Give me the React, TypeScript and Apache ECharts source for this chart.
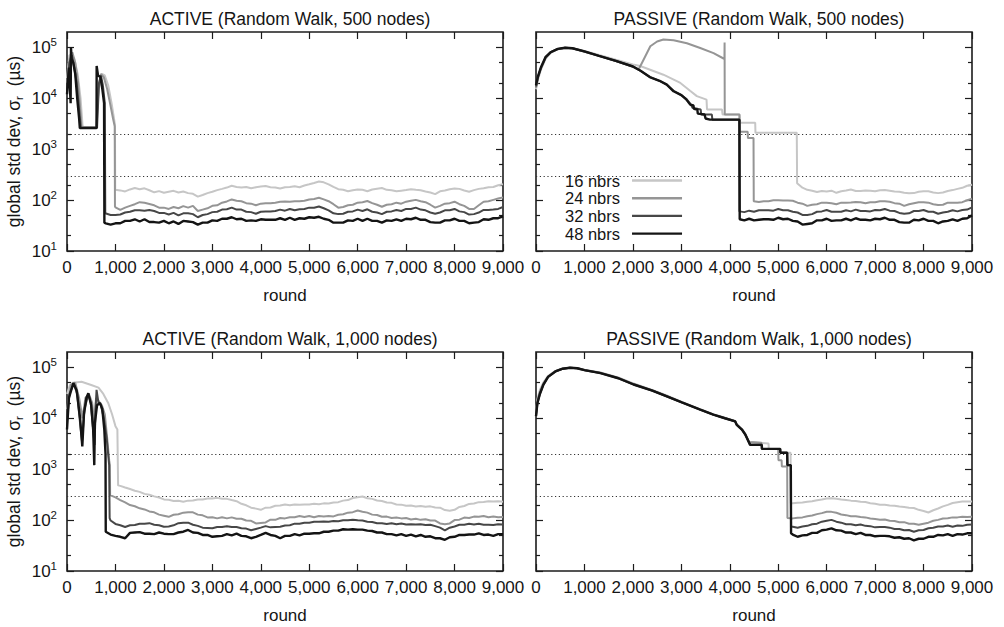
import React, { useEffect, useRef } from 'react';
import * as echarts from 'echarts';

const SERIES_NAMES = ['16 nbrs', '24 nbrs', '32 nbrs', '48 nbrs'];
const SERIES_COLORS = ['#c6c6c6', '#959595', '#474747', '#141414'];
const SERIES_WIDTHS = [2, 2, 2, 2.4];
const PANEL_TITLES = [
  'ACTIVE (Random Walk, 500 nodes)',
  'PASSIVE (Random Walk, 500 nodes)',
  'ACTIVE (Random Walk, 1,000 nodes)',
  'PASSIVE (Random Walk, 1,000 nodes)',
];
const X_MIN = 0;
const X_MAX = 9000;
const X_INTERVAL = 1000;
const Y_MIN = 10;
const Y_MAX = 200000;
const Y_MAJOR = [10, 100, 1000, 10000, 100000];
const Y_MINOR = [20, 50, 200, 500, 2000, 5000, 20000, 50000];
const THRESHOLDS = [2000, 300];
const TAIL_STEP = 100;

// ---------- ACTIVE, 500 nodes ----------
const tl16Head = [[0, 2.5e4], [50, 7e4], [100, 7e4], [150, 6e4], [220, 3e4], [280, 1e4], [320, 3e3], [330, 2.7e3], [600, 2.7e3], [650, 1.5e4], [720, 3e4], [780, 2.8e4], [850, 1.8e4], [920, 8e3], [970, 4e3], [990, 3e3], [995, 160]];
const tl16TailStart = 1100;
const tl16Tail = [155, 148, 162, 172, 163, 170, 156, 142, 150, 139, 146, 152, 141, 147, 137, 133, 117, 126, 137, 146, 157, 166, 176, 191, 181, 176, 181, 171, 179, 184, 189, 179, 177, 169, 179, 181, 186, 179, 193, 204, 216, 231, 223, 204, 181, 164, 159, 149, 156, 161, 159, 149, 161, 167, 173, 159, 156, 149, 153, 157, 163, 159, 156, 147, 141, 131, 149, 154, 163, 169, 166, 154, 146, 157, 166, 171, 179, 181, 196, 204];
const tl24Head = [[0, 2e4], [60, 6e4], [110, 8e4], [170, 5e4], [230, 2e4], [280, 5e3], [300, 2.7e3], [610, 2.7e3], [650, 1.5e4], [700, 3e4], [760, 2.6e4], [830, 1.5e4], [900, 7e3], [950, 4e3], [985, 2.8e3], [990, 75]];
const tl24TailStart = 1000;
const tl24Tail = [72, 64, 71, 77, 83, 91, 89, 84, 79, 71, 71, 67, 73, 69, 76, 71, 77, 61, 65, 69, 77, 79, 89, 94, 103, 97, 95, 87, 85, 79, 85, 87, 87, 89, 93, 94, 93, 95, 95, 97, 103, 105, 111, 103, 95, 83, 71, 73, 79, 81, 89, 91, 96, 87, 81, 74, 81, 83, 89, 85, 93, 97, 101, 95, 91, 81, 71, 77, 85, 87, 93, 83, 77, 67, 67, 79, 93, 95, 101, 107, 113];
const tl32Head = [[0, 1.5e4], [50, 5e4], [100, 7e4], [150, 4e4], [200, 2e4], [250, 6e3], [285, 2.6e3], [620, 2.6e3], [660, 2e4], [700, 2.8e4], [740, 1.8e4], [780, 8e3], [790, 55]];
const tl32TailStart = 800;
const tl32Tail = [56, 51, 51, 52, 57, 59, 63, 63, 62, 64, 61, 56, 56, 52, 56, 50, 55, 55, 53, 46, 51, 53, 58, 59, 65, 66, 71, 65, 65, 59, 58, 54, 59, 60, 60, 61, 65, 62, 67, 63, 66, 67, 71, 71, 75, 69, 63, 55, 53, 54, 59, 60, 65, 61, 66, 59, 57, 53, 59, 60, 64, 61, 67, 67, 71, 65, 63, 57, 54, 57, 63, 63, 67, 60, 58, 52, 53, 57, 64, 64, 65, 67, 73];
const tl48Head = [[0, 1.2e4], [40, 4e4], [75, 8e3], [82, 1e5], [95, 6e4], [130, 5e4], [170, 3e4], [210, 1e4], [250, 4e3], [265, 2.6e3], [610, 2.6e3], [612, 4.3e4], [640, 2.8e4], [690, 2.6e4], [730, 1.5e4], [765, 8e3], [772, 36]];
const tl48TailStart = 800;
const tl48Tail = [35, 33, 35, 35, 39, 39, 42, 38, 42, 37, 37, 36, 39, 35, 38, 34, 39, 38, 37, 33, 36, 36, 40, 39, 43, 43, 46, 42, 43, 39, 40, 39, 42, 41, 41, 41, 44, 41, 45, 41, 44, 43, 46, 45, 47, 43, 41, 36, 36, 36, 40, 39, 43, 39, 43, 39, 39, 36, 40, 39, 42, 39, 43, 42, 45, 41, 41, 37, 36, 36, 40, 40, 43, 39, 39, 35, 36, 37, 42, 41, 44, 44, 48];

// ---------- PASSIVE, 500 nodes ----------
const tr16Head = [[0, 1.5e4], [40, 2.3e4], [100, 3.6e4], [200, 6e4], [300, 7.8e4], [450, 9.2e4], [600, 9.8e4], [750, 9.7e4], [1000, 8.5e4], [1300, 7.1e4], [1650, 5.7e4], [2000, 4.6e4], [2150, 4.3e4], [2630, 2.9e4], [2980, 2e4], [3180, 1.4e4], [3320, 1.1e4], [3520, 9.4e3], [3530, 6e3], [3840, 6e3], [3850, 4.8e3], [4200, 4.8e3], [4210, 3.3e3], [4525, 3.3e3], [4530, 2.1e3], [5383, 2.1e3], [5390, 215]];
const tr16TailStart = 5500;
const tr16Tail = [175, 159, 153, 144, 151, 147, 153, 139, 149, 154, 161, 151, 151, 154, 153, 149, 156, 157, 153, 147, 146, 139, 136, 137, 146, 149, 149, 141, 137, 141, 151, 157, 166, 174, 191, 200];
const tr24Head = [[0, 1.6e4], [40, 2.5e4], [100, 3.8e4], [200, 6.2e4], [300, 7.9e4], [450, 9.2e4], [600, 9.7e4], [750, 9.6e4], [1000, 8.2e4], [1300, 6.8e4], [1650, 5.4e4], [2000, 4.2e4], [2120, 3.7e4], [2220, 5.7e4], [2360, 1.05e5], [2500, 1.3e5], [2630, 1.42e5], [2840, 1.38e5], [3115, 1.2e5], [3390, 9.7e4], [3665, 7.7e4], [3890, 5.9e4], [3893, 1.25e5], [3896, 4.8e3], [4200, 4.8e3], [4205, 2.2e3], [4370, 2.2e3], [4375, 1.65e3], [4490, 1.65e3], [4495, 95]];
const tr24TailStart = 4600;
const tr24Tail = [92, 95, 95, 99, 99, 98, 98, 97, 89, 85, 77, 81, 83, 89, 89, 87, 83, 89, 89, 90, 92, 91, 87, 91, 91, 95, 95, 93, 87, 85, 77, 83, 87, 91, 91, 89, 83, 80, 81, 89, 89, 89, 91, 99, 106];
const tr32Head = [[0, 1.7e4], [40, 2.6e4], [100, 3.9e4], [200, 6.4e4], [300, 8e4], [450, 9.3e4], [600, 9.8e4], [750, 9.6e4], [1000, 8.3e4], [1300, 6.8e4], [1650, 5.4e4], [2000, 4.2e4], [2150, 3.5e4], [2350, 2.6e4], [2550, 2.2e4], [2700, 1.85e4], [2840, 1.4e4], [3000, 1.15e4], [3100, 9.8e3], [3200, 7.5e3], [3230, 6.5e3], [3400, 6e3], [3410, 4.8e3], [3630, 4.8e3], [3640, 3.8e3], [4195, 3.8e3], [4200, 60]];
const tr32TailStart = 4300;
const tr32Tail = [58, 62, 59, 63, 63, 63, 62, 67, 63, 63, 59, 57, 51, 51, 53, 59, 60, 64, 59, 59, 59, 63, 60, 65, 61, 61, 60, 64, 63, 67, 62, 61, 56, 54, 55, 61, 61, 64, 59, 59, 54, 57, 59, 63, 60, 64, 65, 72];
const tr48Head = [[0, 1.8e4], [40, 2.7e4], [100, 4e4], [200, 6.5e4], [300, 8e4], [450, 9.3e4], [600, 9.8e4], [750, 9.6e4], [1000, 8.3e4], [1300, 6.8e4], [1650, 5.4e4], [2000, 4.2e4], [2150, 3.5e4], [2350, 2.6e4], [2550, 2.2e4], [2700, 1.85e4], [2840, 1.37e4], [3000, 1.15e4], [3100, 9.5e3], [3183, 7.5e3], [3250, 7.2e3], [3260, 6.2e3], [3330, 6e3], [3340, 5e3], [3480, 4.8e3], [3500, 4e3], [3590, 3.8e3], [4200, 3.8e3], [4205, 42]];
const tr48TailStart = 4300;
const tr48Tail = [40, 43, 40, 41, 42, 42, 41, 45, 42, 43, 39, 38, 33, 34, 35, 40, 40, 43, 39, 40, 40, 43, 40, 44, 41, 41, 40, 43, 42, 45, 41, 41, 37, 36, 36, 41, 40, 43, 39, 39, 35, 38, 39, 42, 39, 43, 44, 50];

// ---------- ACTIVE, 1,000 nodes ----------
const bl16Head = [[0, 3e4], [60, 4.5e4], [120, 5e4], [300, 5.2e4], [500, 4.5e4], [650, 4e4], [750, 3e4], [850, 2e4], [930, 1.2e4], [1000, 7e3], [1040, 6e3], [1055, 480]];
const bl16TailStart = 1100;
const bl16Tail = [470, 436, 408, 377, 358, 327, 315, 292, 278, 255, 251, 237, 239, 229, 241, 242, 253, 253, 265, 265, 273, 262, 261, 247, 235, 209, 195, 175, 168, 159, 175, 177, 191, 193, 203, 195, 203, 199, 203, 202, 209, 205, 213, 211, 221, 225, 241, 247, 271, 282, 291, 269, 261, 242, 237, 222, 218, 202, 201, 192, 193, 185, 189, 182, 186, 177, 175, 157, 153, 159, 181, 189, 208, 212, 225, 227, 235, 231, 235, 230];
const bl24Head = [[0, 1.5e4], [80, 4.5e4], [170, 5e4], [250, 2.5e4], [320, 1e4], [380, 2.5e4], [450, 3e4], [520, 2e4], [560, 8e3], [600, 2.5e4], [650, 2.2e4], [720, 1.8e4], [780, 1.2e4], [830, 4e3], [870, 1.5e3], [885, 1.2e3], [890, 310]];
const bl24TailStart = 1000;
const bl24Tail = [280, 247, 222, 197, 187, 170, 162, 148, 142, 128, 122, 116, 127, 130, 140, 143, 142, 128, 124, 113, 114, 108, 114, 108, 113, 106, 106, 98, 97, 86, 88, 90, 102, 101, 110, 108, 114, 114, 120, 115, 120, 114, 120, 118, 120, 118, 127, 130, 140, 143, 154, 146, 140, 128, 126, 116, 117, 110, 112, 108, 110, 103, 106, 101, 104, 98, 98, 86, 83, 86, 100, 102, 112, 110, 117, 116, 120, 114, 117, 114, 115];
const bl32Head = [[0, 9e3], [50, 3e4], [140, 4.8e4], [210, 3e4], [270, 8e3], [310, 3.5e3], [360, 1.5e4], [440, 3e4], [490, 2e4], [540, 6e3], [570, 3e3], [590, 1.5e4], [610, 3.6e4], [650, 2e4], [700, 1.8e4], [760, 1e4], [820, 4e3], [870, 1.2e3], [880, 109]];
const bl32TailStart = 900;
const bl32Tail = [98, 84, 79, 73, 79, 80, 85, 85, 87, 81, 79, 74, 75, 79, 87, 89, 89, 81, 77, 71, 70, 69, 73, 73, 76, 73, 73, 69, 68, 63, 67, 71, 76, 72, 73, 74, 78, 79, 85, 85, 89, 89, 93, 93, 94, 93, 96, 95, 99, 99, 102, 99, 98, 93, 92, 87, 87, 84, 87, 83, 86, 82, 83, 82, 83, 80, 81, 76, 71, 63, 71, 75, 81, 81, 85, 82, 85, 81, 81, 80, 83, 82];
const bl48Head = [[0, 6e3], [40, 2.5e4], [130, 4.9e4], [200, 3.5e4], [270, 1e4], [316, 2.8e3], [350, 1.2e4], [400, 2.5e4], [440, 3.1e4], [500, 1.8e4], [540, 6e3], [563, 1.2e3], [575, 8e3], [620, 1.8e4], [680, 2e4], [730, 1.5e4], [770, 6e3], [795, 2e3], [800, 59]];
const bl48TailStart = 900;
const bl48Tail = [52, 49, 47, 44, 56, 57, 58, 54, 54, 53, 57, 54, 53, 53, 57, 59, 64, 57, 56, 51, 51, 47, 48, 49, 53, 50, 54, 49, 48, 44, 47, 51, 56, 51, 49, 44, 49, 49, 53, 50, 54, 54, 55, 55, 59, 59, 62, 62, 66, 65, 66, 65, 65, 62, 61, 57, 57, 53, 53, 50, 53, 49, 52, 48, 51, 47, 48, 44, 44, 41, 46, 47, 51, 51, 52, 52, 55, 51, 52, 49, 53, 53];

// ---------- PASSIVE, 1,000 nodes ----------
const br16Head = [[0, 1.3e4], [30, 2.4e4], [80, 3.6e4], [150, 5e4], [250, 6.8e4], [400, 8.5e4], [550, 9.5e4], [700, 9.8e4], [850, 9.7e4], [1000, 9e4], [1330, 7.9e4], [1700, 6.3e4], [2015, 4.8e4], [2400, 3.6e4], [2700, 2.8e4], [3010, 2.1e4], [3390, 1.5e4], [3660, 1.2e4], [3900, 1.02e4], [4110, 8.8e3], [4145, 7.6e3], [4250, 6.1e3], [4320, 5e3], [4400, 3.4e3], [4800, 3.2e3], [4805, 2.5e3], [5040, 2.5e3], [5045, 2.1e3], [5255, 2.1e3], [5260, 215]];
const br16TailStart = 5300;
const br16Tail = [215, 219, 221, 229, 235, 246, 254, 266, 269, 263, 254, 249, 241, 237, 229, 226, 214, 209, 201, 199, 194, 191, 184, 181, 175, 173, 159, 151, 141, 156, 169, 186, 199, 216, 224, 231, 231, 232];
const br24Head = [[0, 1.2e4], [30, 2.2e4], [80, 3.3e4], [150, 4.8e4], [250, 6.6e4], [400, 8.4e4], [550, 9.4e4], [700, 9.8e4], [850, 9.6e4], [1000, 8.9e4], [1330, 7.8e4], [1700, 6.2e4], [2015, 4.7e4], [2400, 3.5e4], [2700, 2.7e4], [3010, 2.05e4], [3390, 1.48e4], [3660, 1.18e4], [3900, 1e4], [4110, 8.7e3], [4145, 7.5e3], [4250, 6e3], [4320, 4.8e3], [4400, 3.4e3], [4655, 3.3e3], [4660, 2.5e3], [5000, 2.5e3], [5005, 1.5e3], [5070, 1.5e3], [5075, 1.13e3], [5185, 1.13e3], [5190, 110]];
const br24TailStart = 5300;
const br24Tail = [108, 111, 113, 119, 123, 131, 137, 146, 145, 139, 129, 125, 119, 119, 115, 113, 107, 105, 102, 103, 97, 96, 91, 91, 85, 85, 81, 85, 89, 97, 101, 107, 109, 113, 113, 116, 115, 116];
const br32Head = [[0, 1.1e4], [30, 2e4], [80, 3e4], [150, 4.5e4], [250, 6.5e4], [400, 8.3e4], [550, 9.4e4], [700, 9.8e4], [850, 9.6e4], [1000, 8.8e4], [1330, 7.7e4], [1700, 6.1e4], [2015, 4.6e4], [2400, 3.5e4], [2700, 2.7e4], [3010, 2.05e4], [3390, 1.48e4], [3660, 1.18e4], [3900, 1e4], [4110, 8.7e3], [4145, 7.4e3], [4250, 6e3], [4320, 4.8e3], [4420, 3e3], [4660, 3e3], [4665, 2.5e3], [5040, 2.5e3], [5045, 2.1e3], [5185, 2.1e3], [5190, 1.2e3], [5260, 1.2e3], [5265, 75]];
const br32TailStart = 5300;
const br32Tail = [74, 71, 75, 77, 83, 85, 93, 97, 101, 93, 89, 83, 83, 79, 82, 77, 76, 72, 73, 73, 71, 67, 67, 63, 64, 59, 63, 64, 69, 71, 75, 75, 78, 74, 78, 77, 81, 82];
const br48Head = [[0, 1.1e4], [30, 2e4], [80, 3e4], [150, 4.5e4], [250, 6.5e4], [400, 8.3e4], [550, 9.4e4], [700, 9.8e4], [850, 9.6e4], [1000, 8.8e4], [1330, 7.7e4], [1700, 6.1e4], [2015, 4.6e4], [2400, 3.5e4], [2700, 2.7e4], [3010, 2.05e4], [3390, 1.48e4], [3660, 1.18e4], [3900, 1e4], [4110, 8.7e3], [4145, 7.4e3], [4250, 6e3], [4320, 4.8e3], [4420, 3e3], [4660, 3e3], [4665, 2.5e3], [5040, 2.5e3], [5045, 2.1e3], [5185, 2.1e3], [5190, 1.2e3], [5260, 1.2e3], [5265, 55]];
const br48TailStart = 5300;
const br48Tail = [52, 47, 50, 51, 56, 56, 63, 65, 69, 63, 62, 57, 57, 53, 56, 51, 51, 48, 49, 49, 48, 45, 46, 43, 44, 40, 43, 43, 47, 47, 51, 50, 53, 49, 53, 52, 55, 55];

const PANELS = [
  [[tl16Head, tl16TailStart, tl16Tail], [tl24Head, tl24TailStart, tl24Tail], [tl32Head, tl32TailStart, tl32Tail], [tl48Head, tl48TailStart, tl48Tail]],
  [[tr16Head, tr16TailStart, tr16Tail], [tr24Head, tr24TailStart, tr24Tail], [tr32Head, tr32TailStart, tr32Tail], [tr48Head, tr48TailStart, tr48Tail]],
  [[bl16Head, bl16TailStart, bl16Tail], [bl24Head, bl24TailStart, bl24Tail], [bl32Head, bl32TailStart, bl32Tail], [bl48Head, bl48TailStart, bl48Tail]],
  [[br16Head, br16TailStart, br16Tail], [br24Head, br24TailStart, br24Tail], [br32Head, br32TailStart, br32Tail], [br48Head, br48TailStart, br48Tail]],
];

const FONT = 'Liberation Sans, Arial, Helvetica, sans-serif';
const TEXT = '#151515';
const FS = 17;

function buildSeriesData(head: number[][], tailStart: number, tail: number[]) {
  return head.concat(tail.map((v, i) => [tailStart + i * TAIL_STEP, v]));
}

function buildOption() {
  const grids = [
    { left: 67, top: 32, width: 436, height: 219 },
    { left: 536, top: 32, width: 436, height: 219 },
    { left: 67, top: 352, width: 436, height: 219 },
    { left: 536, top: 352, width: 436, height: 219 },
  ].map((g) => ({ ...g, show: true, borderColor: '#1c1c1c', borderWidth: 1.6, backgroundColor: 'transparent' }));

  const titles = PANEL_TITLES.map((t, i) => ({
    text: t,
    left: i % 2 === 0 ? 285 : 754,
    top: i < 2 ? 5 : 325,
    textAlign: 'center',
    textStyle: { fontSize: FS + 0.5, fontWeight: 'normal', color: TEXT, fontFamily: FONT },
  }));

  const xAxis: any[] = [];
  const yAxis: any[] = [];
  const tickStyle = { color: '#1c1c1c', width: 1.2 };
  for (let i = 0; i < 4; i++) {
    const baseX = {
      gridIndex: i, type: 'value', min: X_MIN, max: X_MAX, interval: X_INTERVAL,
      axisLine: { show: false }, splitLine: { show: false },
      axisTick: { inside: true, length: 7, lineStyle: tickStyle },
    };
    xAxis.push({
      ...baseX, position: 'bottom',
      axisLabel: {
        fontSize: FS, color: TEXT, fontFamily: FONT, margin: 8,
        formatter: (v: number) => v.toLocaleString('en-US'),
      },
      name: 'round', nameLocation: 'middle', nameGap: 36,
      nameTextStyle: { fontSize: FS, color: TEXT, fontFamily: FONT },
    });
    xAxis.push({ ...baseX, position: 'top', axisLabel: { show: false } });

    const baseY = {
      gridIndex: i, type: 'log', logBase: 10, min: Y_MIN, max: Y_MAX,
      axisLine: { show: false }, splitLine: { show: false }, minorTick: { show: false },
    };
    const leftMajor: any = {
      ...baseY, position: 'left',
      axisTick: { inside: true, length: 7, lineStyle: tickStyle, customValues: Y_MAJOR },
      axisLabel: {
        show: i % 2 === 0, customValues: Y_MAJOR, margin: 10,
        formatter: (v: number) => `{b|10}{s|${Math.round(Math.log10(v))}}`,
        rich: {
          b: { fontSize: FS, color: TEXT, fontFamily: FONT, lineHeight: 22 },
          s: { fontSize: 11.5, color: TEXT, fontFamily: FONT, lineHeight: 12, verticalAlign: 'top' },
        },
      },
    };
    if (i % 2 === 0) {
      leftMajor.name = '{a|global std dev, σ}{s|r}{a|  (µs)}';
      leftMajor.nameLocation = 'middle';
      leftMajor.nameGap = 42;
      leftMajor.nameTextStyle = {
        rich: {
          a: { fontSize: FS + 0.5, color: TEXT, fontFamily: FONT, lineHeight: 22 },
          s: { fontSize: 11.5, color: TEXT, fontFamily: FONT, lineHeight: 12, verticalAlign: 'bottom' },
        },
      };
    }
    yAxis.push(leftMajor);
    yAxis.push({
      ...baseY, position: 'left',
      axisTick: { inside: true, length: 4, lineStyle: tickStyle, customValues: Y_MINOR },
      axisLabel: { show: false },
    });
    yAxis.push({
      ...baseY, position: 'right',
      axisTick: { inside: true, length: 7, lineStyle: tickStyle, customValues: Y_MAJOR },
      axisLabel: { show: false },
    });
    yAxis.push({
      ...baseY, position: 'right',
      axisTick: { inside: true, length: 4, lineStyle: tickStyle, customValues: Y_MINOR },
      axisLabel: { show: false },
    });
  }

  const series: any[] = [];
  PANELS.forEach((panel, p) => {
    panel.forEach((s, k) => {
      const [head, start, tail] = s as [number[][], number, number[]];
      const item: any = {
        name: SERIES_NAMES[k],
        type: 'line',
        xAxisIndex: p * 2,
        yAxisIndex: p * 4,
        data: buildSeriesData(head, start, tail),
        symbol: 'none',
        showSymbol: false,
        lineStyle: { color: SERIES_COLORS[k], width: SERIES_WIDTHS[k] },
        itemStyle: { color: SERIES_COLORS[k] },
        z: 3 + k,
        silent: true,
      };
      if (k === 0) {
        item.markLine = {
          silent: true,
          symbol: ['none', 'none'],
          label: { show: false },
          lineStyle: { color: '#333', width: 1, type: [1.2, 2.6] },
          data: THRESHOLDS.map((t) => ({ yAxis: t })),
          z: 1,
        };
      }
      series.push(item);
    });
  });

  return {
    animation: false,
    backgroundColor: '#fff',
    title: titles,
    grid: grids,
    xAxis,
    yAxis,
    legend: {
      data: SERIES_NAMES,
      orient: 'vertical',
      left: 560,
      top: 167,
      align: 'right',
      icon: 'rect',
      itemWidth: 50,
      itemHeight: 2.4,
      itemGap: 0.7,
      textStyle: { fontSize: 16.5, color: TEXT, fontFamily: FONT, padding: [0, 7, 0, 0], lineHeight: 17 },
      selectedMode: false,
    },
    series,
  };
}

export default function App() {
  const ref = useRef<HTMLDivElement>(null);
  useEffect(() => {
    if (!ref.current) return;
    const chart = echarts.init(ref.current, null, { renderer: 'svg' });
    chart.setOption(buildOption() as any);
    return () => chart.dispose();
  }, []);
  return (
    <div
      ref={ref}
      style={{ position: 'fixed', left: 0, top: 0, width: 1004, height: 627, background: '#fff' }}
    />
  );
}
